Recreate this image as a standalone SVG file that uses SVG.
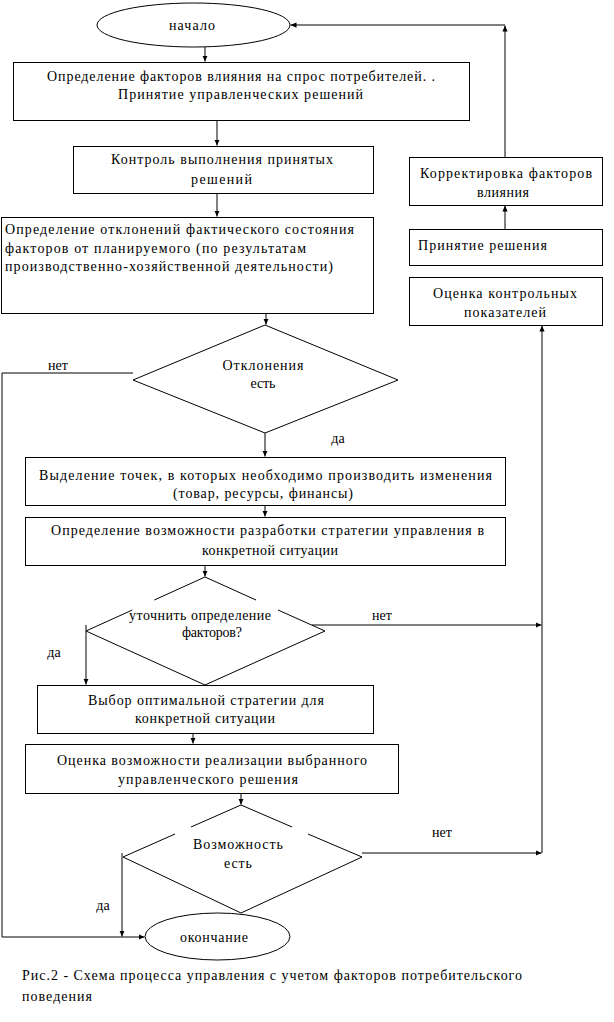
<svg xmlns="http://www.w3.org/2000/svg" width="614" height="1022" viewBox="0 0 614 1022" font-family="'Liberation Serif', 'DejaVu Serif', serif" font-size="14">
<style>
.s{fill:#fff;stroke:#000;stroke-width:1}
.l{fill:none;stroke:#000;stroke-width:1}
text{font-family:'Liberation Serif','DejaVu Serif',serif;font-size:14px;fill:#000}
.m{text-anchor:middle}
</style>
<defs>
<marker id="a" viewBox="0 0 8 8" refX="8" refY="4" markerWidth="6" markerHeight="6" markerUnits="userSpaceOnUse" orient="auto">
<path d="M0,0.5 L8,4 L0,7.5 z" fill="#000"/>
</marker>
</defs>
<rect width="614" height="1022" fill="#fff"/>

<g id="connectors">
<path class="l" d="M205,47 V61.5" marker-end="url(#a)"/>
<path class="l" d="M217,121 V145.5" marker-end="url(#a)"/>
<path class="l" d="M217,193 V216.5" marker-end="url(#a)"/>
<path class="l" d="M266,313 V324.5" marker-end="url(#a)"/>
<path class="l" d="M265,433 V456.5" marker-end="url(#a)"/>
<path class="l" d="M265,505 V516.5" marker-end="url(#a)"/>
<path class="l" d="M205,565 V576.5" marker-end="url(#a)"/>
<path class="l" d="M86,625 V684.5" marker-end="url(#a)"/>
<path class="l" d="M312,625 H541.5" marker-end="url(#a)"/>
<path class="l" d="M193,733 V743.5" marker-end="url(#a)"/>
<path class="l" d="M241,793 V804.5" marker-end="url(#a)"/>
<path class="l" d="M362,853 H541.5" marker-end="url(#a)"/>
<path class="l" d="M122,853 V936.5" marker-end="url(#a)"/>
<path class="l" d="M133,373 H2 V937 H144.5" marker-end="url(#a)"/>
<path class="l" d="M542,853 V325.5" marker-end="url(#a)"/>
<path class="l" d="M505,229 V205.5" marker-end="url(#a)"/>
<path class="l" d="M505,157 V25.5" marker-end="url(#a)"/>
<path class="l" d="M505,25 H290.5" marker-end="url(#a)"/>
<text x="58" y="370" class="m">нет</text>
<text x="338" y="443" class="m">да</text>
<text x="382" y="620" class="m">нет</text>
<text x="54" y="657" class="m">да</text>
<text x="442" y="837" class="m">нет</text>
<text x="103" y="910" class="m">да</text>
</g>

<g id="start">
<ellipse class="s" cx="193.5" cy="25" rx="96.5" ry="22"/>
<text x="192" y="30" class="m" textLength="46" lengthAdjust="spacing">начало</text>
</g>

<g id="n1">
<rect class="s" x="13.5" y="62.5" width="456" height="58"/>
<text x="241" y="81" class="m" textLength="388" lengthAdjust="spacing">Определение факторов влияния на спрос потребителей. .</text>
<text x="240.5" y="99" class="m" textLength="245" lengthAdjust="spacing">Принятие управленческих решений</text>
</g>

<g id="n2">
<rect class="s" x="73.5" y="146.5" width="300" height="47"/>
<text x="222" y="164" class="m" textLength="222" lengthAdjust="spacing">Контроль выполнения принятых</text>
<text x="221.5" y="184" class="m" textLength="61" lengthAdjust="spacing">решений</text>
</g>

<g id="n3">
<rect class="s" x="1.5" y="217.5" width="372" height="96"/>
<text x="5" y="234" textLength="349" lengthAdjust="spacing">Определение отклонений фактического состояния</text>
<text x="5" y="252.5" textLength="301" lengthAdjust="spacing">факторов от планируемого (по результатам</text>
<text x="5" y="271" textLength="328" lengthAdjust="spacing">производственно-хозяйственной деятельности)</text>
</g>

<g id="d1">
<path class="s" d="M265,325 L398,380 L265,433 L133,380 Z"/>
<text x="263" y="370" class="m" textLength="81" lengthAdjust="spacing">Отклонения</text>
<text x="263" y="388" class="m" textLength="25" lengthAdjust="spacing">есть</text>
</g>

<g id="n4">
<rect class="s" x="25.5" y="457.5" width="480" height="48"/>
<text x="265.5" y="480" class="m" textLength="453" lengthAdjust="spacing">Выделение точек, в которых необходимо производить изменения</text>
<text x="263" y="498" class="m" textLength="180" lengthAdjust="spacing">(товар, ресурсы, финансы)</text>
</g>

<g id="n5">
<rect class="s" x="25.5" y="517.5" width="480" height="48"/>
<text x="267.5" y="535" class="m" textLength="433" lengthAdjust="spacing">Определение возможности разработки стратегии управления в</text>
<text x="270" y="555" class="m" textLength="136" lengthAdjust="spacing">конкретной ситуации</text>
</g>

<g id="d2">
<path class="l" d="M154.3,600 L205,577 L256,600 M278,610 L325,631 L205,685 L86,631 L132.3,610"/>
<text x="200" y="620" class="m" textLength="142" lengthAdjust="spacing">уточнить определение</text>
<text x="212" y="637" class="m" textLength="60" lengthAdjust="spacing">факторов?</text>
</g>

<g id="n6">
<rect class="s" x="37.5" y="685.5" width="336" height="48"/>
<text x="206" y="705" class="m" textLength="236" lengthAdjust="spacing">Выбор оптимальной стратегии для</text>
<text x="205" y="723" class="m" textLength="140" lengthAdjust="spacing">конкретной ситуации</text>
</g>

<g id="n7">
<rect class="s" x="25.5" y="744.5" width="373" height="49"/>
<text x="212" y="765" class="m" textLength="310" lengthAdjust="spacing">Оценка возможности реализации выбранного</text>
<text x="208" y="784" class="m" textLength="180" lengthAdjust="spacing">управленческого решения</text>
</g>

<g id="d3">
<path class="l" d="M191,827 L241,805 L292,827 M308,834 L362,857 L241,913 L123,857 L175,834"/>
<text x="238" y="849" class="m" textLength="90" lengthAdjust="spacing">Возможность</text>
<text x="238" y="868" class="m" textLength="28" lengthAdjust="spacing">есть</text>
</g>

<g id="end">
<ellipse class="s" cx="217.5" cy="936.5" rx="72.5" ry="23.5"/>
<text x="214" y="942" class="m" textLength="68" lengthAdjust="spacing">окончание</text>
</g>

<g id="r1">
<rect class="s" x="409.5" y="157.5" width="193" height="48"/>
<text x="506" y="178" class="m" textLength="172" lengthAdjust="spacing">Корректировка факторов</text>
<text x="503" y="197" class="m" textLength="52" lengthAdjust="spacing">влияния</text>
</g>

<g id="r2">
<rect class="s" x="409.5" y="229.5" width="193" height="36"/>
<text x="418" y="250" textLength="129" lengthAdjust="spacing">Принятие решения</text>
</g>

<g id="r3">
<rect class="s" x="409.5" y="277.5" width="193" height="48"/>
<text x="505" y="298" class="m" textLength="144" lengthAdjust="spacing">Оценка контрольных</text>
<text x="505" y="317" class="m" textLength="82" lengthAdjust="spacing">показателей</text>
</g>

<g id="caption">
<text x="22" y="980" textLength="500" lengthAdjust="spacing">Рис.2 - Схема процесса управления с учетом факторов потребительского</text>
<text x="22" y="1001" textLength="70" lengthAdjust="spacing">поведения</text>
</g>
</svg>
